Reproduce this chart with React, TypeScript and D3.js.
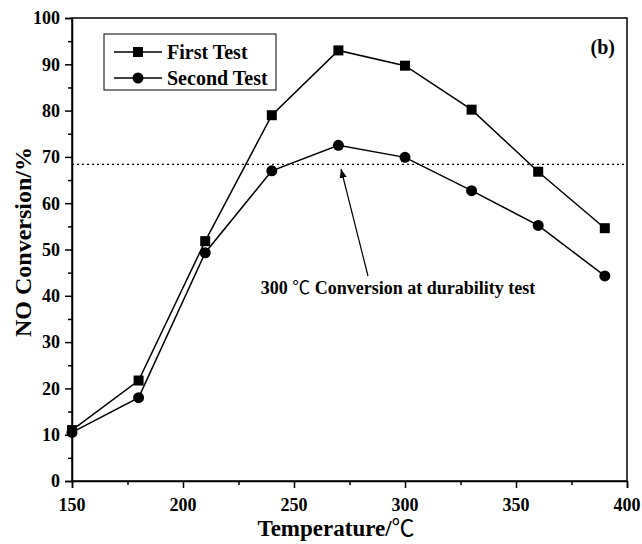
import React, { useEffect, useRef } from 'react';
import * as d3 from 'd3';

const temperatures = [150, 180, 210, 240, 270, 300, 330, 360, 390];
const firstTest = [11.0, 21.7, 51.8, 79.0, 93.0, 89.7, 80.2, 66.8, 54.6];
const secondTest = [10.5, 18.0, 49.3, 67.0, 72.5, 69.9, 62.7, 55.2, 44.3];
const referenceLevel = 68.4;
const xTicks = [150, 200, 250, 300, 350, 400];
const yTicks = [0, 10, 20, 30, 40, 50, 60, 70, 80, 90, 100];

const FONT = "'Liberation Serif', 'DejaVu Serif', serif";
const CJK = "'Noto Sans CJK SC', 'Noto Sans CJK JP', sans-serif";

export default function App() {
  const ref = useRef<SVGSVGElement>(null);

  useEffect(() => {
    const svg = d3.select(ref.current);
    svg.selectAll('*').remove();

    const left = 72, right = 627, top = 18, bottom = 481;
    const x = d3.scaleLinear().domain([150, 400]).range([left, right]);
    const y = d3.scaleLinear().domain([0, 100]).range([bottom, top]);

    const txt = (sel: any, size: number) =>
      sel.style('font-family', FONT).style('font-weight', 'bold').style('font-size', size + 'px').attr('fill', '#000');

    // frame
    svg.append('rect')
      .attr('x', left).attr('y', top)
      .attr('width', right - left).attr('height', bottom - top)
      .attr('fill', 'none').attr('stroke', '#000').attr('stroke-width', 1.5);

    // x axis
    const xAxis = svg.append('g').attr('transform', `translate(0,${bottom})`);
    xAxis.call(d3.axisBottom(x).tickValues(d3.range(150, 401, 25)).tickSize(7).tickFormat(() => ''));
    xAxis.selectAll('.tick line').filter((d: any) => d % 50 !== 0).attr('y2', 4);
    xAxis.selectAll('.tick line').attr('stroke-width', 1.5);
    xAxis.select('.domain').attr('stroke-width', 1.5);
    txt(xAxis.selectAll('.xl').data(xTicks).enter().append('text')
      .attr('x', d => x(d)).attr('y', 30)
      .attr('text-anchor', 'middle')
      .text(d => d), 18);

    // y axis
    const yAxis = svg.append('g').attr('transform', `translate(${left},0)`);
    yAxis.call(d3.axisLeft(y).tickValues(d3.range(0, 101, 5)).tickSize(7).tickFormat(() => ''));
    yAxis.selectAll('.tick line').filter((d: any) => d % 10 !== 0).attr('x2', -4);
    yAxis.selectAll('.tick line').attr('stroke-width', 1.5);
    yAxis.select('.domain').attr('stroke-width', 1.5);
    txt(yAxis.selectAll('.yl').data(yTicks).enter().append('text')
      .attr('x', -12).attr('y', d => y(d))
      .attr('dy', '0.35em')
      .attr('text-anchor', 'end')
      .text(d => d), 18);

    // axis titles (℃ drawn with a CJK font, like the original)
    const xt = txt(svg.append('text')
      .attr('x', 336).attr('y', 536)
      .attr('text-anchor', 'middle'), 23);
    xt.append('tspan').text('Temperature/');
    xt.append('tspan').style('font-family', CJK).style('font-weight', 'normal').text('℃');
    txt(svg.append('text')
      .attr('transform', `translate(31,242) rotate(-90)`)
      .attr('text-anchor', 'middle')
      .text('NO Conversion/%'), 24);

    // reference dotted line
    svg.append('line')
      .attr('x1', left).attr('x2', right)
      .attr('y1', y(referenceLevel)).attr('y2', y(referenceLevel))
      .attr('stroke', '#000').attr('stroke-width', 1.2)
      .attr('stroke-dasharray', '2,3');

    const line = d3.line<number>()
      .x((_, i) => x(temperatures[i]))
      .y(d => y(d));

    svg.append('path').datum(firstTest)
      .attr('fill', 'none').attr('stroke', '#000').attr('stroke-width', 1.5)
      .attr('d', line);
    svg.append('path').datum(secondTest)
      .attr('fill', 'none').attr('stroke', '#000').attr('stroke-width', 1.5)
      .attr('d', line);

    svg.selectAll('.sq').data(firstTest).enter().append('rect')
      .attr('x', (_, i) => x(temperatures[i]) - 5)
      .attr('y', d => y(d) - 5)
      .attr('width', 10).attr('height', 10)
      .attr('fill', '#000');
    svg.selectAll('.ci').data(secondTest).enter().append('circle')
      .attr('cx', (_, i) => x(temperatures[i]))
      .attr('cy', d => y(d))
      .attr('r', 5.5)
      .attr('fill', '#000');

    // annotation
    const defs = svg.append('defs');
    defs.append('marker')
      .attr('id', 'arrow')
      .attr('viewBox', '0 0 10 10')
      .attr('refX', 10).attr('refY', 5)
      .attr('markerWidth', 9).attr('markerHeight', 9)
      .attr('markerUnits', 'userSpaceOnUse')
      .attr('orient', 'auto')
      .append('path').attr('d', 'M0,1 L10,5 L0,9 Z').attr('fill', '#000');
    svg.append('line')
      .attr('x1', 368).attr('y1', 276)
      .attr('x2', 341).attr('y2', 169)
      .attr('stroke', '#000').attr('stroke-width', 1.2)
      .attr('marker-end', 'url(#arrow)');
    const at = txt(svg.append('text')
      .attr('x', 398).attr('y', 294)
      .attr('text-anchor', 'middle'), 18);
    at.append('tspan').text('300 ');
    at.append('tspan').style('font-family', CJK).style('font-weight', 'normal').text('℃');
    at.append('tspan').text(' Conversion at durability test');

    // panel label
    txt(svg.append('text')
      .attr('x', 615).attr('y', 54)
      .attr('text-anchor', 'end')
      .text('(b)'), 20);

    // legend
    const lg = svg.append('g');
    lg.append('rect')
      .attr('x', 104).attr('y', 34).attr('width', 172).attr('height', 56)
      .attr('fill', '#fff').attr('stroke', '#000').attr('stroke-width', 1);
    const entries = [
      { label: 'First Test', shape: 'square', cy: 52 },
      { label: 'Second Test', shape: 'circle', cy: 78 },
    ];
    entries.forEach(e => {
      lg.append('line')
        .attr('x1', 114).attr('x2', 162).attr('y1', e.cy).attr('y2', e.cy)
        .attr('stroke', '#000').attr('stroke-width', 1.5);
      if (e.shape === 'square') {
        lg.append('rect').attr('x', 133).attr('y', e.cy - 5).attr('width', 10).attr('height', 10).attr('fill', '#000');
      } else {
        lg.append('circle').attr('cx', 138).attr('cy', e.cy).attr('r', 5.5).attr('fill', '#000');
      }
      txt(lg.append('text')
        .attr('x', 167).attr('y', e.cy).attr('dy', '0.35em')
        .text(e.label), 20);
    });
  }, []);

  return <svg ref={ref} width={642} height={544} style={{ position: 'absolute', left: 0, top: 0, background: '#fff' }} />;
}
